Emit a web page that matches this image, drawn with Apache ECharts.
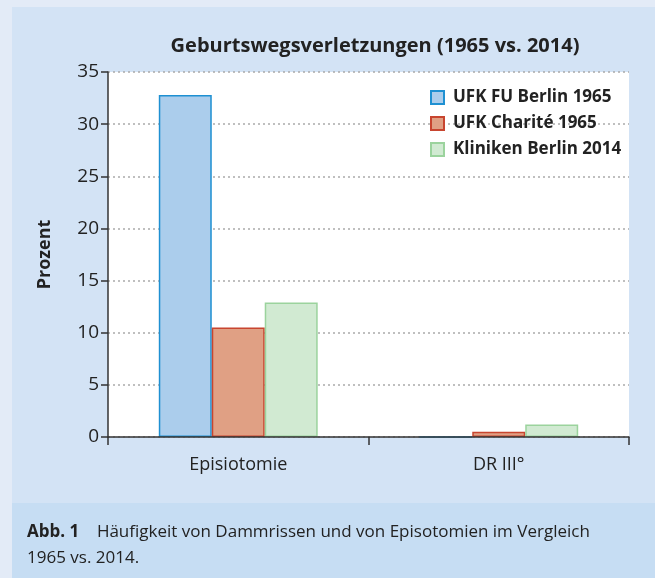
<!DOCTYPE html>
<html>
<head>
<meta charset="utf-8">
<script src="https://cdn.jsdelivr.net/npm/echarts@6/dist/echarts.min.js"></script>
<style>
  html, body { margin: 0; padding: 0; background: #e3ebf7; }
  #main { width: 655px; height: 578px; }
</style>
</head>
<body>
<div id="main"></div>
<script>
// Daten
var categories = ['Episiotomie', 'DR III°'];
var fuBerlin1965 = [32.8, 0];
var charite1965 = [10.5, 0.5];
var kliniken2014 = [12.9, 1.2];
var yTicks = [0, 5, 10, 15, 20, 25, 30, 35];

var fontFam = '"Open Sans", sans-serif';

var chart = echarts.init(document.getElementById('main'), null, { renderer: 'canvas' });

var option = {
  backgroundColor: '#e3ebf7',
  animation: false,
  graphic: [
    // Panel oben
    { type: 'rect', left: 12, top: 7, shape: { width: 643, height: 496 }, style: { fill: '#d3e3f5' }, z: -10 },
    // Bildunterschrift-Box
    { type: 'rect', left: 12, top: 503, shape: { width: 643, height: 75 }, style: { fill: '#c6ddf3' }, z: -10 },
    {
      type: 'text', left: 27, top: 519,
      style: {
        text: '{b|Abb. 1}    Häufigkeit von Dammrissen und von Episotomien im Vergleich\n1965 vs. 2014.',
        font: '17px ' + fontFam,
        fill: '#222',
        lineHeight: 26,
        rich: { b: { fontWeight: 'bold', fontSize: 17, fontFamily: fontFam, fill: '#222' } }
      }
    }
  ],
  title: {
    text: 'Geburtswegsverletzungen (1965 vs. 2014)',
    left: 370, textAlign: 'center', top: 31,
    textStyle: { fontFamily: fontFam, fontSize: 20, fontWeight: 'bold', color: '#222' }
  },
  legend: {
    orient: 'vertical',
    left: 425, top: 84,
    itemWidth: 13, itemHeight: 13, itemGap: 9,
    icon: 'rect',
    textStyle: { fontFamily: fontFam, fontSize: 17, fontWeight: 'bold', color: '#222', padding: [0, 0, 0, 4] },
    data: ['UFK FU Berlin 1965', 'UFK Charité 1965', 'Kliniken Berlin 2014']
  },
  grid: { left: 108, right: 26, top: 72, bottom: 141, backgroundColor: '#fff', show: true, borderWidth: 0 },
  xAxis: {
    type: 'category',
    data: categories,
    z: 5,
    axisLine: { lineStyle: { color: '#333', width: 1.5 } },
    axisTick: { show: true, length: 8, lineStyle: { color: '#333', width: 1.5 } },
    axisLabel: { fontFamily: fontFam, fontSize: 18, color: '#222', margin: 19 }
  },
  yAxis: {
    type: 'value',
    min: 0, max: 35, interval: 5,
    name: 'Prozent',
    nameLocation: 'middle',
    nameGap: 54,
    nameTextStyle: { fontFamily: fontFam, fontSize: 18, fontWeight: 'bold', color: '#222' },
    axisLine: { show: true, lineStyle: { color: '#333', width: 1.5 } },
    axisTick: { show: true, length: 7, lineStyle: { color: '#333', width: 1.5 } },
    axisLabel: {
      fontFamily: fontFam, fontSize: 19, color: '#222', margin: 9,
      formatter: function (v) { return yTicks.indexOf(v) >= 0 ? String(v) : ''; }
    },
    splitLine: { show: true, lineStyle: { color: '#aaa', type: [2, 3], width: 1.5 } }
  },
  series: [
    {
      name: 'UFK FU Berlin 1965', type: 'bar', data: fuBerlin1965,
      barGap: '0%', barCategoryGap: '39%',
      itemStyle: { color: '#abcdec', borderColor: '#1e90d2', borderWidth: 1.5 }
    },
    {
      name: 'UFK Charité 1965', type: 'bar', data: charite1965,
      itemStyle: { color: '#e0a084', borderColor: '#c8452f', borderWidth: 1.5 }
    },
    {
      name: 'Kliniken Berlin 2014', type: 'bar', data: kliniken2014,
      itemStyle: { color: '#d1ead2', borderColor: '#9bd39d', borderWidth: 1.5 }
    }
  ]
};

chart.setOption(option);
</script>
</body>
</html>
